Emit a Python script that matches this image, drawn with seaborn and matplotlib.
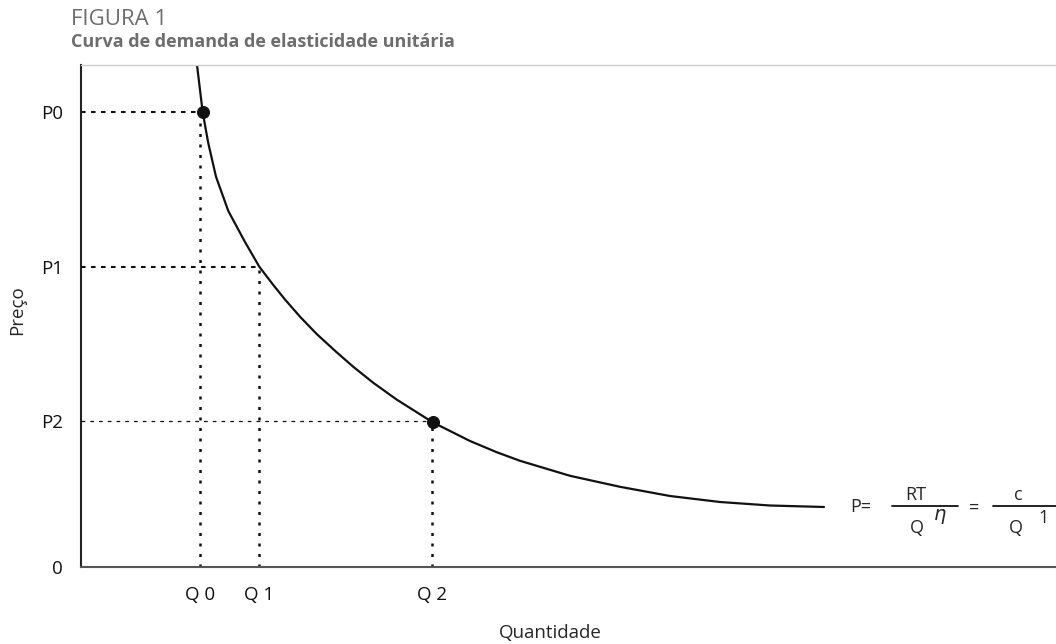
import matplotlib
matplotlib.use("Agg")
import matplotlib.pyplot as plt
import seaborn as sns
import pandas as pd

# demand curve (quantity, price), schematic units
curve_q = [11.6, 12.17, 12.73, 13.5, 14.73, 16.4, 17.83, 19.23, 20.4, 21.9,
           23.57, 25.5, 27.23, 29.23, 31.57, 35.17, 38.9, 41.57, 43.9, 48.9,
           53.9, 58.9, 63.9, 68.9, 74.3]
curve_p = [50.2, 45.47, 42.37, 39.03, 35.6, 32.5, 30.03, 28.2, 26.75, 25.03,
           23.3, 21.53, 20.02, 18.42, 16.74, 14.47, 12.6, 11.48, 10.62, 9.12,
           8.02, 7.1, 6.5, 6.15, 6.0]

# reference levels
q_levels = [11.9, 17.8, 35.1]
p_levels = [45.5, 30.0, 14.6]
q_labels = ["Q 0", "Q 1", "Q 2"]
p_labels = ["P0", "P1", "P2"]

# highlighted points (Q0,P0) and (Q2,P2)
dot_q = [12.17, 35.17]
dot_p = [45.47, 14.47]

sns.set_style("white")
plt.rcParams['font.family'] = ['Open Sans', 'DejaVu Sans']

fig = plt.figure(figsize=(10.56, 6.44), dpi=100)
ax = fig.add_axes([81 / 1056, 77 / 644, 975 / 1056, 502 / 644])

df = pd.DataFrame({"q": curve_q, "p": curve_p})
sns.lineplot(data=df, x="q", y="p", sort=False, color="#111111", lw=1.6, ax=ax)

# dotted guide lines
h_styles = [(0, (2.2, 2.6)), (0, (2.2, 2.6)), (0, (3.0, 4.0))]
h_widths = [1.5, 1.5, 0.9]
for q, p, ls, lw in zip(q_levels, p_levels, h_styles, h_widths):
    ax.plot([0, q], [p, p], color="#111111", lw=lw, linestyle=ls)
    ax.plot([q, q], [0, p], color="#111111", lw=1.8, linestyle=(0, (1.2, 3.0)))

sns.scatterplot(x=dot_q, y=dot_p, s=75, color="#111111", edgecolor="#111111",
                ax=ax, zorder=5)

ax.set_xlim(0, 97.5)
ax.set_ylim(0, 50.2)
ax.set_xticks(q_levels)
ax.set_xticklabels(q_labels)
ax.set_yticks([0] + p_levels)
ax.set_yticklabels(["0"] + p_labels)
ax.tick_params(axis="both", length=0, labelsize=13.5, colors="#111111")
ax.tick_params(axis="y", pad=13)
ax.tick_params(axis="x", pad=14)
ax.set_xlabel("")
ax.set_ylabel("")

ax.spines["left"].set_color("#222222")
ax.spines["bottom"].set_color("#555555")
for side in ["left", "bottom"]:
    ax.spines[side].set_linewidth(1.5)
ax.spines["right"].set_visible(False)
ax.spines["top"].set_color("#cccccc")
ax.spines["top"].set_linewidth(1.0)

# formula to the right of the curve
fs = 13
ax.text(78.0, 5.95, "P=", ha="center", va="center", fontsize=fs)
ax.text(83.5, 6.7, "RT", ha="center", va="baseline", fontsize=fs)
ax.plot([81.1, 87.7], [6.1, 6.1], color="#111111", lw=1.3, clip_on=False)
ax.text(83.6, 3.4, "Q", ha="center", va="baseline", fontsize=fs)
ax.text(85.9, 5.95, r"$\eta$", ha="center", va="top", fontsize=14)
ax.text(89.3, 5.9, "=", ha="center", va="center", fontsize=fs)
ax.text(93.7, 6.7, "c", ha="center", va="baseline", fontsize=fs)
ax.plot([91.2, 97.5], [6.1, 6.1], color="#111111", lw=1.3, clip_on=False)
ax.text(93.5, 3.4, "Q", ha="center", va="baseline", fontsize=fs)
ax.text(96.3, 4.4, "1", ha="center", va="baseline", fontsize=fs)

fig.text(17 / 1056, 1 - 310 / 644, "Preço", rotation=90, ha="center", va="center",
         fontsize=13.5)
fig.text(550 / 1056, 1 - 633 / 644, "Quantidade", ha="center", va="center",
         fontsize=13.5)

fig.text(71 / 1056, 1 - 25 / 644, "FIGURA 1", ha="left", va="baseline",
         fontsize=16, color="#6d6d6d")
fig.text(71 / 1056, 1 - 47 / 644, "Curva de demanda de elasticidade unitária",
         ha="left", va="baseline", fontsize=13, fontweight="bold", color="#6d6d6d")

fig.savefig("out.png", dpi=100)
